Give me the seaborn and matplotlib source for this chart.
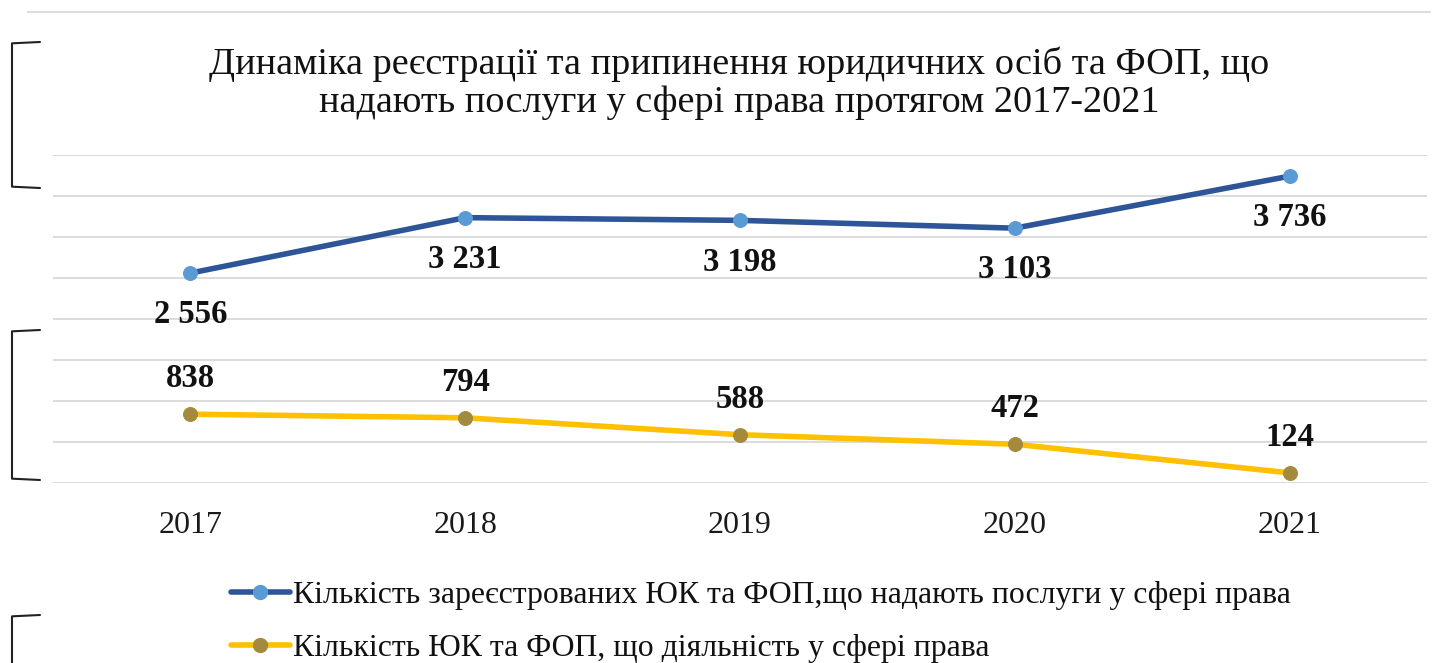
import matplotlib
matplotlib.use("Agg")
import matplotlib.pyplot as plt
from matplotlib.lines import Line2D
import seaborn as sns
import pandas as pd

years = ["2017", "2018", "2019", "2020", "2021"]
registered = [2556, 3231, 3198, 3103, 3736]
terminated = [838, 794, 588, 472, 124]
label_registered = "Кількість зареєстрованих ЮК та ФОП,що надають послуги у сфері права"
label_terminated = "Кількість ЮК та ФОП, що діяльність у сфері права"
title = ("Динаміка реєстрації та припинення юридичних осіб та ФОП, що\n"
         "надають послуги у сфері права протягом 2017-2021")

sns.set_theme(style="white")
plt.rcParams["font.family"] = ["Liberation Serif", "DejaVu Serif"]
plt.rcParams["text.color"] = "#111111"

blue_line, blue_marker = "#2E5597", "#5B9BD5"
gold_line, gold_marker = "#FFC000", "#A48A3C"

df = pd.DataFrame({
    "year": years * 2,
    "value": registered + terminated,
    "series": [label_registered] * len(years) + [label_terminated] * len(years),
})

fig = plt.figure(figsize=(14.45, 6.63), dpi=100)
ax = fig.add_axes([53 / 1445, 1 - 483 / 663, 1374 / 1445, 328.5 / 663])

for name, lc, mc in [(label_registered, blue_line, blue_marker),
                     (label_terminated, gold_line, gold_marker)]:
    sub = df[df["series"] == name]
    sns.lineplot(data=sub, x="year", y="value", ax=ax, color=lc, linewidth=4,
                 marker="o", markersize=10, markerfacecolor=mc,
                 markeredgecolor=mc, legend=False, sort=False)

ax.set_xlim(-0.5, len(years) - 0.5)
ax.set_ylim(0, 4000)
ax.set_yticks(range(0, 4001, 500))
ax.yaxis.grid(True, color="#D9D9D9", linewidth=1.3)
ax.xaxis.grid(False)
ax.tick_params(axis="y", left=False, labelleft=False)
ax.tick_params(axis="x", bottom=False, labelsize=23, pad=14, colors="#1A1A1A")
ax.set_xlabel("")
ax.set_ylabel("")
for s in ax.spines.values():
    s.set_visible(False)

def fmt(v):
    return f"{v:,}".replace(",", " ")

for i, v in enumerate(registered):
    ax.annotate(fmt(v), (i, v), xytext=(0, -30), textcoords="offset points",
                ha="center", va="center", fontsize=23.5, fontweight="bold",
                color="#111111")
for i, v in enumerate(terminated):
    ax.annotate(fmt(v), (i, v), xytext=(0, 25.5), textcoords="offset points",
                ha="center", va="center", fontsize=23.5, fontweight="bold",
                color="#111111")

fig.text(739 / 1445, 1 - 83 / 663, title, ha="center", va="center",
         fontsize=27.5, color="#111111", linespacing=1.15)

handles = [
    Line2D([], [], color=blue_line, linewidth=4, marker="o", markersize=10,
           markerfacecolor=blue_marker, markeredgecolor=blue_marker),
    Line2D([], [], color=gold_line, linewidth=4, marker="o", markersize=10,
           markerfacecolor=gold_marker, markeredgecolor=gold_marker),
]
fig.legend(handles, [label_registered, label_terminated], loc="upper left",
           bbox_to_anchor=(218 / 1445, 1 - 568 / 663), frameon=False,
           fontsize=22.9, handlelength=1.85, handletextpad=0.1,
           labelspacing=0.75, borderaxespad=0, labelcolor="#111111")

# page-side brackets and faint frame edges
for y0, y1 in [(42, 188), (330, 480), (615, 670)]:
    fig.add_artist(Line2D([40 / 1445, 12 / 1445, 12 / 1445, 40 / 1445],
                          [1 - y0 / 663, 1 - y0 / 663 - 0.002, 1 - y1 / 663 + 0.002, 1 - y1 / 663],
                          color="#222222", linewidth=1.5))
fig.add_artist(Line2D([28 / 1445, 1430 / 1445], [1 - 12 / 663, 1 - 12 / 663],
                      color="#DDDDDD", linewidth=1.5))

fig.savefig("out.png", dpi=100, facecolor="white")
